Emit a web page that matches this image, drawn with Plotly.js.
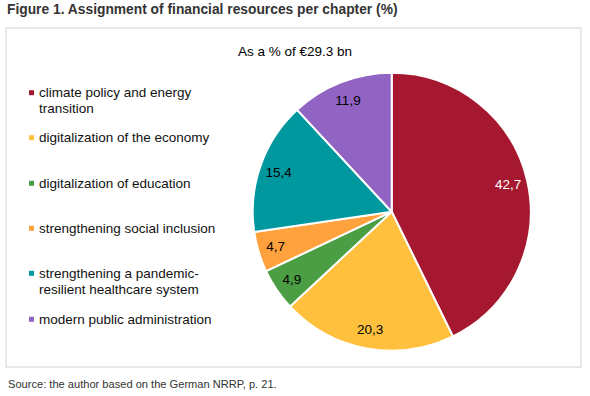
<!DOCTYPE html>
<html>
<head>
<meta charset="utf-8">
<script src="https://cdn.plot.ly/plotly-3.0.1.min.js"></script>
<style>html,body{margin:0;padding:0;background:#fff;}#chart{width:590px;height:396px;}</style>
</head>
<body>
<div id="chart"></div>
<script>
// ---- data ----
var chartTitle = "Figure 1. Assignment of financial resources per chapter (%)";
var subTitle = "As a % of €29.3 bn";
var sourceNote = "Source: the author based on the German NRRP, p. 21.";
var labels = [
  "climate policy and energy transition",
  "digitalization of the economy",
  "digitalization of education",
  "strengthening social inclusion",
  "strengthening a pandemic-resilient healthcare system",
  "modern public administration"
];
var values = [42.7, 20.3, 4.9, 4.7, 15.4, 11.9];

// ---- styles ----
var colors = ["#A6182F", "#FFC03D", "#4B9E44", "#FFA13D", "#00989F", "#9163C3"];
var textColors = ["#ffffff", "#000000", "#000000", "#000000", "#000000", "#000000"];
var W = 590, H = 396;
var FONT = "Liberation Sans, Arial, Helvetica, sans-serif";
function px(x){ return x / W; }
function py(y){ return 1 - y / H; }

// wrap legend text at word / hyphen boundaries
function wrap(s, maxLen){
  var tokens = s.match(/[^\s-]+-?|\s+/g), lines = [], cur = "";
  tokens.forEach(function(t){
    if (/^\s+$/.test(t)) { cur += " "; return; }
    if ((cur + t).trim().length > maxLen && cur.trim().length) { lines.push(cur.trim()); cur = t; }
    else cur += t;
  });
  if (cur.trim().length) lines.push(cur.trim());
  return lines;
}

var cx = 391.7, cy = 211.7, R = 139;
var dom = {x: [px(cx - R), px(cx + R)], y: [py(cy + R), py(cy - R)]};

// full pie: the slices
var base = {
  type: "pie", values: values, labels: labels, sort: false,
  direction: "clockwise", rotation: 0, domain: dom,
  marker: {colors: colors, line: {color: "#ffffff", width: 2}},
  textinfo: "none", showlegend: false, hoverinfo: "label+value"
};
// transparent ring on top: only carries the value labels near the outer edge
var clear = values.map(function(){ return "rgba(0,0,0,0)"; });
var ring = {
  type: "pie", values: values, labels: labels, sort: false,
  direction: "clockwise", rotation: 0, domain: dom, hole: 0.72,
  marker: {colors: clear, line: {color: "rgba(0,0,0,0)", width: 0}},
  textinfo: "value", textposition: "inside", insidetextorientation: "horizontal",
  textfont: {family: FONT, size: 13.5, color: textColors},
  showlegend: false, hoverinfo: "skip"
};

// legend built from labels/colors
var legendY = [92.7, 137.7, 183.3, 228.3, 273.3, 319.3];
var annotations = [], shapes = [];
labels.forEach(function(l, i){
  var lines = wrap(l, 30);
  lines.forEach(function(line, j){
    annotations.push({xref: "paper", yref: "paper", x: px(37), y: py(legendY[i] + j * 16),
      xanchor: "left", yanchor: "middle", showarrow: false, text: line,
      font: {family: FONT, size: 13.5, color: "#111111"}});
  });
  shapes.push({type: "rect", xref: "paper", yref: "paper", x0: px(29), x1: px(34),
    y0: py(legendY[i] + 2.5), y1: py(legendY[i] - 2.5), fillcolor: colors[i], line: {width: 0}});
});
annotations.push({xref: "paper", yref: "paper", x: px(294.5), y: py(51), xanchor: "center", yanchor: "middle",
  showarrow: false, text: subTitle, font: {family: FONT, size: 13.5, color: "#000000"}});
annotations.push({xref: "paper", yref: "paper", x: px(6), y: py(384), xanchor: "left", yanchor: "middle",
  showarrow: false, text: sourceNote, font: {family: FONT, size: 11.1, color: "#333333"}});
shapes.push({type: "rect", xref: "paper", yref: "paper", x0: px(6), x1: px(581), y0: py(367), y1: py(28),
  line: {color: "#e2e2e2", width: 1.5}, layer: "below"});

var layout = {
  width: W, height: H, margin: {l: 0, r: 0, t: 0, b: 0},
  paper_bgcolor: "#ffffff", plot_bgcolor: "#ffffff",
  separators: ",.",
  title: {text: "<b>" + chartTitle + "</b>", x: px(7), xref: "paper", xanchor: "left",
    y: py(9.5), yref: "paper", yanchor: "middle",
    font: {family: FONT, size: 13.8, color: "#333333"}},
  annotations: annotations, shapes: shapes, showlegend: false
};
Plotly.newPlot("chart", [base, ring], layout, {displayModeBar: false, staticPlot: true});
</script>
</body>
</html>
